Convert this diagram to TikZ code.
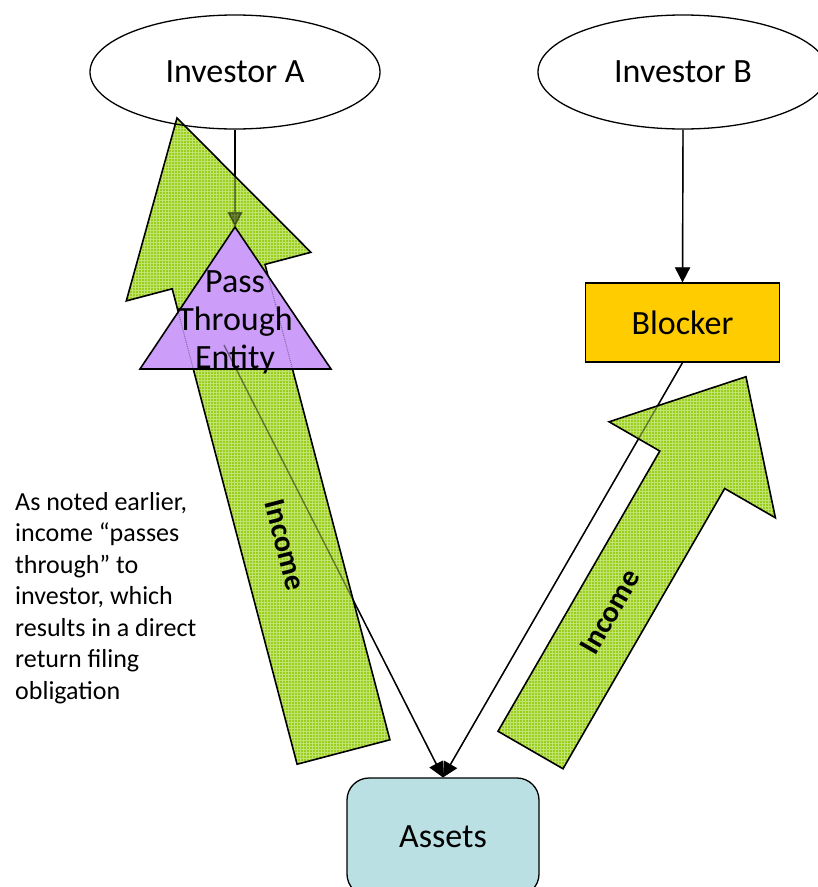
\documentclass[tikz,border=0pt]{standalone}
\usepackage{fontspec}
\setmainfont{Carlito}
\usetikzlibrary{shapes.geometric,arrows.meta,patterns}

\definecolor{incomegreen}{RGB}{156,204,28}
\definecolor{incomegrid}{RGB}{192,228,112}
\definecolor{ptelilac}{RGB}{204,158,250}
\definecolor{blockergold}{RGB}{255,204,0}
\definecolor{assetsaqua}{RGB}{186,224,228}

% drawing layers: plain links, income flows, the entity triangle, link tint, boxes
\pgfdeclarelayer{links}
\pgfdeclarelayer{flows}
\pgfdeclarelayer{entity}
\pgfdeclarelayer{tint}
\pgfsetlayers{links,flows,entity,tint,main}

% all ownership links, drawn once plain and once as a tint over the flows
\newcommand\drawlinks[1]{%
  \draw[link,#1] (ia.south) -- (pte-apex);
  \draw[link,#1] (ib.south) -- (blk.north);
  \draw[link,#1] (blk.south) -- (as.north);
  \draw[link,#1] (pte-out) -- (as.north);
}

\begin{document}
\begin{tikzpicture}[x=1pt,y=-1pt,
  investor/.style={ellipse, draw, line width=1.3pt, minimum width=290pt,
    minimum height=114pt, inner sep=0pt, font=\fontsize{34}{40}\selectfont},
  box/.style={draw, line width=1.3pt, inner sep=0pt,
    font=\fontsize{34}{40}\selectfont},
  link/.style={line width=1.4pt, -{Triangle[length=15pt,width=15pt]}},
  flow/.style={preaction={fill=incomegreen}, pattern=grid,
    pattern color=incomegrid, draw, line width=1.6pt, line join=miter},
  income/.style={font=\bfseries\fontsize{30}{34}\selectfont, inner sep=0pt},
  note/.style={align=left, anchor=north west, inner sep=0pt,
    font=\fontsize{26}{31.5}\selectfont}]

\useasboundingbox (0,0) rectangle (818,887);
\clip (0,0) rectangle (818,887);

% parties and boxes
\node[investor] (ia) at (235,72) {Investor A};
\node[investor] (ib) at (683,72) {Investor B};
\node[box, fill=blockergold, minimum width=194pt, minimum height=79pt]
  (blk) at (682.5,322.5) {Blocker};
\node[box, fill=assetsaqua, rounded corners=22pt, minimum width=192pt,
  minimum height=118pt] (as) at (443,837) {Assets};

\coordinate (pte-apex) at (235,227);
\coordinate (pte-out) at (224,345);
\node[align=center, inner sep=0pt, font=\fontsize{34}{38}\selectfont]
  (pte) at (235,322) {Pass\\Through\\Entity};

% income flows
\begin{pgfonlayer}{flows}
  \path[flow] (177,118) -- (310.9,252.3) -- (265,264.4) -- (389.9,739.8)
    -- (297.1,764.2) -- (172.2,288.8) -- (126.3,300.9) -- cycle;
  \path[flow] (746,376.7) -- (775.4,517.8) -- (724.7,488.5) -- (563,768.75)
    -- (498,731.25) -- (659.8,451.05) -- (609.1,421.8) -- cycle;
\end{pgfonlayer}

% pass through entity triangle, with the flow edges faintly showing through
\begin{pgfonlayer}{entity}
  \draw[fill=ptelilac, line width=1.6pt, line join=miter]
    (pte-apex) -- (331,369) -- (140,369) -- cycle;
  \begin{scope}
    \clip (pte-apex) -- (331,369) -- (140,369) -- cycle;
    \draw[densely dotted, line width=1pt, opacity=0.35]
      (177,118) -- (310.9,252.3) -- (265,264.4) -- (389.9,739.8)
      -- (297.1,764.2) -- (172.2,288.8) -- (126.3,300.9) -- cycle;
  \end{scope}
\end{pgfonlayer}

\begin{pgfonlayer}{links}
  \drawlinks{}
\end{pgfonlayer}
\begin{pgfonlayer}{tint}
  \drawlinks{opacity=0.45}
\end{pgfonlayer}

\node[income, rotate=-75.3] (inc-a) at (285,545) {Income};
\node[income, rotate=60] (inc-b) at (610,612) {Income};

\node[note] (remark) at (15,492) {As noted earlier,\\income “passes\\through” to\\investor, which\\results in a direct\\return filing\\obligation};

\end{tikzpicture}
\end{document}
